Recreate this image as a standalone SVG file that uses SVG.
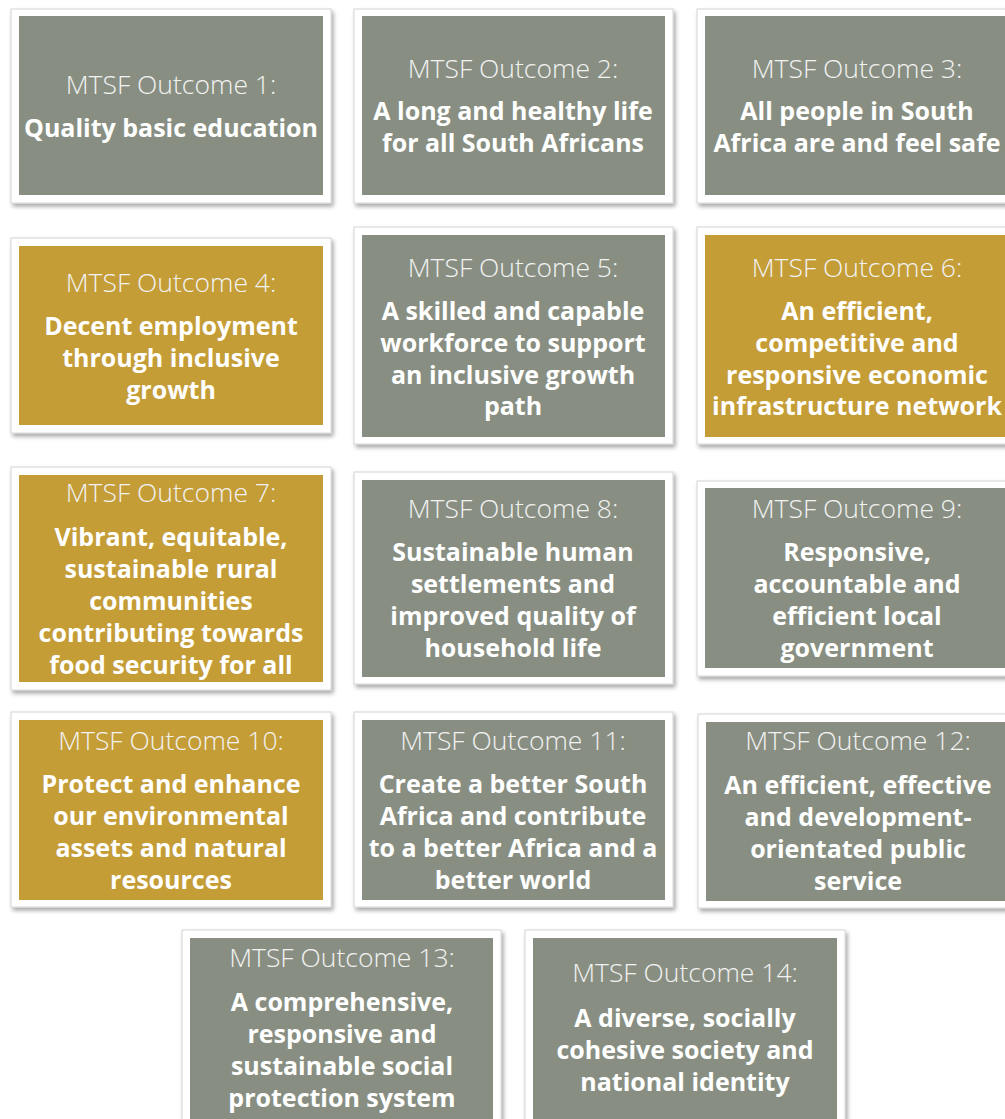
<svg xmlns="http://www.w3.org/2000/svg" width="1005" height="1119" viewBox="0 0 1005 1119">
<defs>
<filter id="sh" x="-5%" y="-5%" width="115%" height="120%">
<feDropShadow dx="2" dy="3" stdDeviation="2" flood-color="#000" flood-opacity="0.35"/>
</filter>
<style>
.frame{fill:#fff;stroke:#d4d4d4;stroke-width:1;filter:url(#sh)}
.grey{fill:#888f82}
.gold{fill:#c49d37}
.t{font-family:"Open Sans","Liberation Sans",sans-serif;font-weight:300;font-size:26.5px;fill:#f2f2f2;text-anchor:middle}
.b{font-family:"Open Sans","Liberation Sans",sans-serif;font-weight:700;font-size:25px;fill:#fff;text-anchor:middle}
</style>
</defs>
<rect width="1005" height="1119" fill="#fff"/>
<g id="connectors"/>
<g id="outcome1">
<rect class="frame" x="11" y="9" width="320" height="194"/>
<rect class="grey" x="19" y="16" width="304" height="179"/>
<text class="t" x="171" y="94">MTSF Outcome 1:</text>
<text class="b" x="171" y="137">Quality basic education</text>
</g>
<g id="outcome2">
<rect class="frame" x="354" y="9" width="319" height="194"/>
<rect class="grey" x="362" y="16" width="303" height="179"/>
<text class="t" x="513" y="78">MTSF Outcome 2:</text>
<text class="b" x="513" y="120">A long and healthy life</text>
<text class="b" x="513" y="152">for all South Africans</text>
</g>
<g id="outcome3">
<rect class="frame" x="697" y="9" width="320" height="194"/>
<rect class="grey" x="705" y="16" width="304" height="179"/>
<text class="t" x="857" y="78">MTSF Outcome 3:</text>
<text class="b" x="857" y="120">All people in South</text>
<text class="b" x="857" y="152">Africa are and feel safe</text>
</g>
<g id="outcome4">
<rect class="frame" x="11" y="238" width="320" height="195"/>
<rect class="gold" x="19" y="246" width="304" height="179"/>
<text class="t" x="171" y="292">MTSF Outcome 4:</text>
<text class="b" x="171" y="335">Decent employment</text>
<text class="b" x="171" y="367">through inclusive</text>
<text class="b" x="171" y="399">growth</text>
</g>
<g id="outcome5">
<rect class="frame" x="354" y="227" width="319" height="217"/>
<rect class="grey" x="362" y="235" width="303" height="202"/>
<text class="t" x="513" y="277">MTSF Outcome 5:</text>
<text class="b" x="513" y="320">A skilled and capable</text>
<text class="b" x="513" y="352">workforce to support</text>
<text class="b" x="513" y="384">an inclusive growth</text>
<text class="b" x="513" y="415">path</text>
</g>
<g id="outcome6">
<rect class="frame" x="697" y="227" width="320" height="217"/>
<rect class="gold" x="705" y="235" width="304" height="202"/>
<text class="t" x="857" y="277">MTSF Outcome 6:</text>
<text class="b" x="857" y="320">An efficient,</text>
<text class="b" x="857" y="352">competitive and</text>
<text class="b" x="857" y="384">responsive economic</text>
<text class="b" x="857" y="415">infrastructure network</text>
</g>
<g id="outcome7">
<rect class="frame" x="11" y="467" width="320" height="223"/>
<rect class="gold" x="19" y="475" width="304" height="207"/>
<text class="t" x="171" y="502">MTSF Outcome 7:</text>
<text class="b" x="171" y="546">Vibrant, equitable,</text>
<text class="b" x="171" y="578">sustainable rural</text>
<text class="b" x="171" y="610">communities</text>
<text class="b" x="171" y="642">contributing towards</text>
<text class="b" x="171" y="674">food security for all</text>
</g>
<g id="outcome8">
<rect class="frame" x="354" y="472" width="319" height="212"/>
<rect class="grey" x="362" y="480" width="303" height="197"/>
<text class="t" x="513" y="518">MTSF Outcome 8:</text>
<text class="b" x="513" y="561">Sustainable human</text>
<text class="b" x="513" y="593">settlements and</text>
<text class="b" x="513" y="625">improved quality of</text>
<text class="b" x="513" y="657">household life</text>
</g>
<g id="outcome9">
<rect class="frame" x="697" y="481" width="320" height="195"/>
<rect class="grey" x="705" y="488" width="304" height="180"/>
<text class="t" x="857" y="518">MTSF Outcome 9:</text>
<text class="b" x="857" y="561">Responsive,</text>
<text class="b" x="857" y="593">accountable and</text>
<text class="b" x="857" y="625">efficient local</text>
<text class="b" x="857" y="657">government</text>
</g>
<g id="outcome10">
<rect class="frame" x="11" y="712" width="320" height="195"/>
<rect class="gold" x="19" y="720" width="304" height="180"/>
<text class="t" x="171" y="750">MTSF Outcome 10:</text>
<text class="b" x="171" y="793">Protect and enhance</text>
<text class="b" x="171" y="825">our environmental</text>
<text class="b" x="171" y="857">assets and natural</text>
<text class="b" x="171" y="889">resources</text>
</g>
<g id="outcome11">
<rect class="frame" x="354" y="712" width="319" height="195"/>
<rect class="grey" x="362" y="720" width="303" height="180"/>
<text class="t" x="513" y="750">MTSF Outcome 11:</text>
<text class="b" x="513" y="793">Create a better South</text>
<text class="b" x="513" y="825">Africa and contribute</text>
<text class="b" x="513" y="857">to a better Africa and a</text>
<text class="b" x="513" y="889">better world</text>
</g>
<g id="outcome12">
<rect class="frame" x="698" y="714" width="320" height="194"/>
<rect class="grey" x="706" y="722" width="304" height="179"/>
<text class="t" x="858" y="750">MTSF Outcome 12:</text>
<text class="b" x="858" y="794">An efficient, effective</text>
<text class="b" x="858" y="826">and development-</text>
<text class="b" x="858" y="858">orientated public</text>
<text class="b" x="858" y="890">service</text>
</g>
<g id="outcome13">
<rect class="frame" x="182" y="930" width="319" height="200"/>
<rect class="grey" x="190" y="938" width="303" height="190"/>
<text class="t" x="342" y="967">MTSF Outcome 13:</text>
<text class="b" x="342" y="1011">A comprehensive,</text>
<text class="b" x="342" y="1043">responsive and</text>
<text class="b" x="342" y="1075">sustainable social</text>
<text class="b" x="342" y="1107">protection system</text>
</g>
<g id="outcome14">
<rect class="frame" x="525" y="930" width="320" height="200"/>
<rect class="grey" x="533" y="938" width="304" height="190"/>
<text class="t" x="685" y="982">MTSF Outcome 14:</text>
<text class="b" x="685" y="1027">A diverse, socially</text>
<text class="b" x="685" y="1059">cohesive society and</text>
<text class="b" x="685" y="1091">national identity</text>
</g>
</svg>
